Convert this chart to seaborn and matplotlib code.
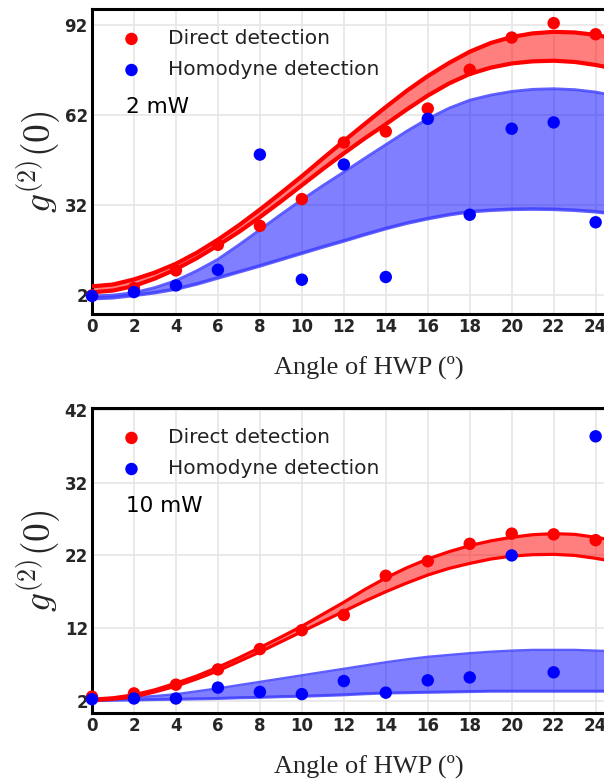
import matplotlib
matplotlib.use("Agg")
import matplotlib.pyplot as plt
import numpy as np
import seaborn as sns

sns.set_theme(style="white")
plt.rcParams["font.family"] = ["DejaVu Sans"]
plt.rcParams["mathtext.fontset"] = "cm"

# measured angles (HWP, degrees)
angles = [0, 2, 4, 6, 8, 10, 12, 14, 16, 18, 20, 22, 24]
# angles for the model bands
fit_angles = list(range(0, 26))

# ---- 2 mW ----
direct_2mw = [2.0, 4.4, 10.3, 18.8, 25.1, 34.0, 52.8, 56.5, 64.1, 77.0, 87.7, 92.5, 88.8]
homo_2mw = [1.8, 3.1, 5.3, 10.5, 48.8, 7.2, 45.5, 8.1, 60.7, 28.8, 57.4, 59.5, 26.3]
red_hi_2mw = [5.0, 5.6, 7.3, 9.6, 12.5, 16.2, 20.5, 25.3, 30.5, 36.0, 41.6, 47.5, 53.3,
              59.0, 64.6, 70.0, 74.9, 79.2, 83.0, 85.9, 87.9, 89.1, 89.6, 89.4, 88.6, 87.2]
red_lo_2mw = [3.0, 3.6, 5.1, 7.6, 10.7, 14.4, 18.6, 23.1, 28.0, 33.2, 38.6, 44.0, 49.2,
              54.2, 58.9, 63.8, 68.4, 72.4, 75.6, 77.7, 79.1, 79.8, 80.0, 79.6, 78.6, 77.2]
blue_hi_2mw = [1.8, 2.1, 2.9, 4.6, 6.9, 10.2, 14.0, 18.8, 23.8, 28.9, 33.8, 38.5, 43.0,
               47.6, 52.1, 56.6, 60.7, 64.2, 66.9, 68.6, 69.8, 70.5, 70.7, 70.4, 69.6, 68.3]
blue_lo_2mw = [0.9, 1.2, 2.0, 2.9, 4.1, 5.8, 7.8, 9.8, 11.8, 13.9, 16.0, 18.1, 20.1,
               22.2, 24.2, 26.0, 27.5, 28.8, 29.8, 30.3, 30.6, 30.7, 30.6, 30.3, 29.8, 29.0]

# ---- 10 mW ----
direct_10mw = [2.55, 3.0, 4.2, 6.3, 9.1, 11.7, 13.8, 19.2, 21.2, 23.6, 25.0, 24.9, 24.1]
homo_10mw = [2.2, 2.3, 2.3, 3.8, 3.2, 2.9, 4.7, 3.1, 4.8, 5.2, 22.0, 5.9, 38.4]
red_hi_10mw = [2.2, 2.4, 2.8, 3.5, 4.4, 5.4, 6.6, 7.9, 9.3, 10.75, 12.25, 13.9, 15.55,
               17.3, 18.9, 20.3, 21.5, 22.5, 23.35, 24.0, 24.5, 24.85, 25.0, 24.9, 24.5, 24.0]
red_lo_10mw = [2.0, 2.2, 2.5, 3.2, 4.0, 5.0, 6.1, 7.4, 8.7, 10.1, 11.5, 12.9, 14.3,
               15.7, 17.0, 18.2, 19.3, 20.2, 20.9, 21.5, 21.9, 22.1, 22.15, 22.0, 21.6, 21.1]
blue_hi_10mw = [2.2, 2.3, 2.45, 2.65, 2.9, 3.3, 3.7, 4.15, 4.6, 5.05, 5.5, 5.95, 6.4,
                6.85, 7.3, 7.7, 8.05, 8.3, 8.55, 8.75, 8.9, 9.0, 9.0, 9.0, 8.9, 8.8]
blue_lo_10mw = [2.0, 2.05, 2.1, 2.15, 2.2, 2.25, 2.3, 2.4, 2.45, 2.55, 2.6, 2.7, 2.8,
                2.95, 3.05, 3.1, 3.15, 3.2, 3.25, 3.3, 3.3, 3.3, 3.3, 3.3, 3.3, 3.3]

xticks = list(range(0, 25, 2))

W, H = 604, 783
fig = plt.figure(figsize=(W / 100, H / 100), dpi=100)
ax_w = 554 / W
ax_h = 305 / H
ax1 = fig.add_axes([92 / W, 1 - 314 / H, ax_w, ax_h])
ax2 = fig.add_axes([92 / W, 1 - 713 / H, ax_w, ax_h])


def draw_panel(ax, direct, homo, r_hi, r_lo, b_hi, b_lo, ylim, yticks, power, lw_r, lw_b):
    ax.fill_between(fit_angles, b_lo, b_hi, color="#0000ff", alpha=0.5, lw=0, zorder=2)
    sns.lineplot(x=fit_angles, y=b_hi, ax=ax, color="#3a3aff", lw=lw_b, alpha=0.8, zorder=3)
    sns.lineplot(x=fit_angles, y=b_lo, ax=ax, color="#3a3aff", lw=lw_b + 0.6, alpha=0.8, zorder=3)
    ax.fill_between(fit_angles, r_lo, r_hi, color="#ff0000", alpha=0.5, lw=0, zorder=2)
    sns.lineplot(x=fit_angles, y=r_hi, ax=ax, color="#ff0000", lw=lw_r, zorder=3)
    sns.lineplot(x=fit_angles, y=r_lo, ax=ax, color="#ff0000", lw=lw_r, zorder=3)

    sns.scatterplot(x=angles, y=direct, ax=ax, color="#ff0000", s=80, edgecolor="none",
                    label="Direct detection", zorder=5, clip_on=False)
    sns.scatterplot(x=angles, y=homo, ax=ax, color="#0000ff", s=80, edgecolor="none",
                    label="Homodyne detection", zorder=6, clip_on=False)

    ax.set_xlim(0, 26.4)
    ax.set_ylim(*ylim)
    ax.set_xticks(xticks)
    ax.set_yticks(yticks)
    ax.grid(True, color="#e6e6e6", lw=1.2)
    ax.set_axisbelow(True)
    for sp in ax.spines.values():
        sp.set_color("black")
        sp.set_linewidth(2.2)
    ax.tick_params(length=0, pad=3, labelsize=12)
    for lab in ax.get_xticklabels() + ax.get_yticklabels():
        lab.set_fontweight("bold")

    ax.set_xlabel("Angle of HWP (º)", family="Liberation Serif", fontsize=19, labelpad=14)
    ax.set_ylabel(r"$g^{(2)}(0)$", fontsize=27, labelpad=1)

    leg = ax.legend(loc="upper left", frameon=False, fontsize=14.5, handlelength=1.2,
                    handletextpad=1.2, labelspacing=0.6, borderaxespad=0.3,
                    bbox_to_anchor=(0.024, 0.98))
    for t in leg.get_texts():
        t.set_color("#222222")
    ax.text(0.061, 0.68, power, transform=ax.transAxes, fontsize=15.5,
            va="center", ha="left", color="black")


draw_panel(ax1, direct_2mw, homo_2mw, red_hi_2mw, red_lo_2mw, blue_hi_2mw, blue_lo_2mw,
           (-4.2, 97.2), [2, 32, 62, 92], "2 mW", 3.0, 2.0)
draw_panel(ax2, direct_10mw, homo_10mw, red_hi_10mw, red_lo_10mw, blue_hi_10mw, blue_lo_10mw,
           (0.3, 42.3), [2, 12, 22, 32, 42], "10 mW", 2.3, 1.6)

fig.savefig("out.png", dpi=100)
plt.close(fig)
